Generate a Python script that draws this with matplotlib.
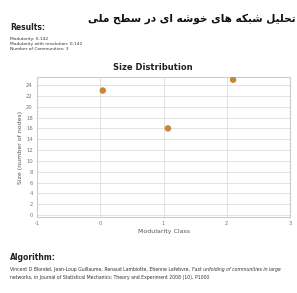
import matplotlib
matplotlib.use("Agg")
import matplotlib.pyplot as plt

# ---- data ----
mod_class = [0.04, 1.07, 2.1]
sizes = [23, 16, 25]
x_ticks = [-1, 0, 1, 2, 3]
y_ticks = list(range(0, 26, 2))
results_lines = ["Modularity: 0.142", "Modularity with resolution: 0.142", "Number of Communities: 3"]
title_fa = "تحلیل شبکه های خوشه ای در سطح ملی"

# ---- minimal Arabic/Persian shaping ----
FORMS = {
    'ت': ('\uFE95', '\uFE96', '\uFE97', '\uFE98'),
    'ح': ('\uFEA1', '\uFEA2', '\uFEA3', '\uFEA4'),
    'ل': ('\uFEDD', '\uFEDE', '\uFEDF', '\uFEE0'),
    'ی': ('\uFBFC', '\uFBFD', '\uFBFE', '\uFBFF'),
    'ش': ('\uFEB5', '\uFEB6', '\uFEB7', '\uFEB8'),
    'ب': ('\uFE8F', '\uFE90', '\uFE91', '\uFE92'),
    'ک': ('\uFB8E', '\uFB8F', '\uFB90', '\uFB91'),
    'ه': ('\uFEE9', '\uFEEA', '\uFEEB', '\uFEEC'),
    'ا': ('\uFE8D', '\uFE8E', None, None),
    'خ': ('\uFEA5', '\uFEA6', '\uFEA7', '\uFEA8'),
    'و': ('\uFEED', '\uFEEE', None, None),
    'د': ('\uFEA9', '\uFEAA', None, None),
    'ر': ('\uFEAD', '\uFEAE', None, None),
    'س': ('\uFEB1', '\uFEB2', '\uFEB3', '\uFEB4'),
    'ط': ('\uFEC1', '\uFEC2', '\uFEC3', '\uFEC4'),
    'م': ('\uFEE1', '\uFEE2', '\uFEE3', '\uFEE4'),
}

def joins_left(c):
    return c in FORMS and FORMS[c][2] is not None

def shape_word(w):
    out = []
    for i, c in enumerate(w):
        if c not in FORMS:
            out.append(c)
            continue
        prev_join = i > 0 and joins_left(w[i - 1])
        next_join = i < len(w) - 1 and w[i + 1] in FORMS and joins_left(c)
        f = FORMS[c]
        if prev_join and next_join:
            out.append(f[3])
        elif prev_join:
            out.append(f[1])
        elif next_join:
            out.append(f[2])
        else:
            out.append(f[0])
    return "".join(reversed(out))

def shape(text):
    return " ".join(shape_word(w) for w in reversed(text.split(" ")))

W, H = 297, 293
fig = plt.figure(figsize=(W / 100, H / 100), dpi=100)
fig.patch.set_facecolor("white")

def fx(px):
    return px / W

def fy(py):
    return 1 - py / H

txt = "#333333"
fig.text(fx(296), fy(19), shape(title_fa), ha="right", va="center",
         fontsize=7.6, fontweight="bold", family="DejaVu Sans", color="#111111")
fig.text(fx(10), fy(27), "Results:", ha="left", va="center", fontsize=5.5,
         fontweight="bold", color="#222222")
for i, line in enumerate(results_lines):
    fig.text(fx(10), fy(39 + 5 * i), line, ha="left", va="center", fontsize=3.2, color=txt)

fig.text(fx(153), fy(68), "Size Distribution", ha="center", va="center",
         fontsize=6, fontweight="bold", color="#222222")

ax = fig.add_axes([fx(37), fy(217), fx(290) - fx(37), fy(77) - fy(217)])
ax.scatter(mod_class, sizes, s=22, color="#c98538", zorder=3, edgecolors="none")
ax.set_xlim(-1, 3)
ax.set_ylim(-0.37, 25.5)
ax.set_xticks(x_ticks)
ax.set_yticks(y_ticks)
ax.set_xticklabels([str(v) for v in x_ticks])
ax.set_yticklabels([str(v) for v in y_ticks])
ax.tick_params(axis="both", labelsize=3.8, colors="#777777", length=0, pad=3)
ax.grid(True, color="#dddddd", linewidth=0.6)
ax.set_axisbelow(True)
for s in ax.spines.values():
    s.set_color("#cccccc")
    s.set_linewidth(0.8)
ax.set_xlabel("Modularity Class", fontsize=4.5, color="#555555", labelpad=2)
ax.set_ylabel("Size (number of nodes)", fontsize=4.5, color="#555555", labelpad=2)

fig.text(fx(10), fy(257), "Algorithm:", ha="left", va="center", fontsize=5.5,
         fontweight="bold", color="#222222")
fig.text(fx(10), fy(270),
         "Vincent D Blondel, Jean-Loup Guillaume, Renaud Lambiotte, Etienne Lefebvre,",
         ha="left", va="center", fontsize=3.3, color=txt)
fig.text(fx(192), fy(270), "Fast unfolding of communities in large",
         ha="left", va="center", fontsize=3.3, color=txt, style="italic")
fig.text(fx(10), fy(278),
         "networks, in Journal of Statistical Mechanics: Theory and Experiment 2008 (10), P1000",
         ha="left", va="center", fontsize=3.3, color=txt)

fig.savefig("out.png", dpi=100, facecolor="white")
